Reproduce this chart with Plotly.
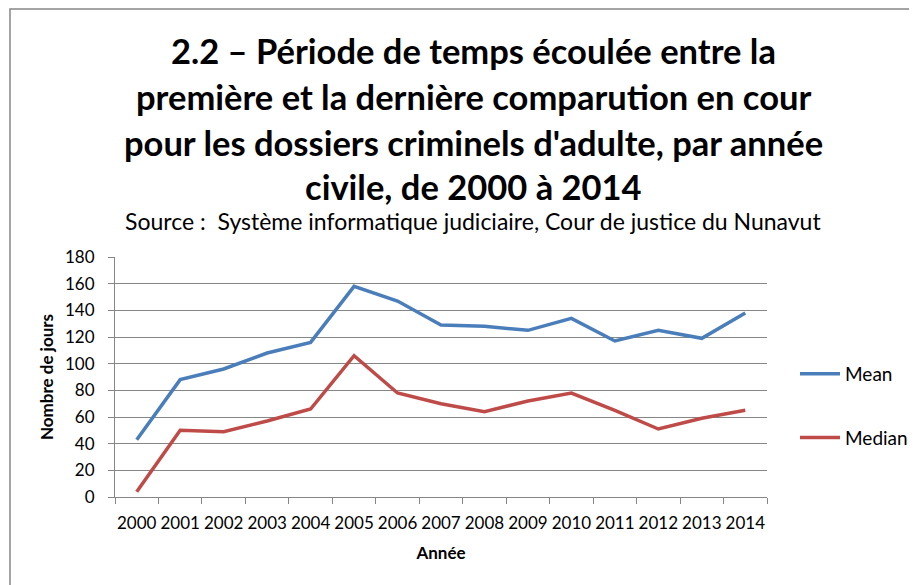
import plotly.graph_objects as go

years = [str(y) for y in range(2000, 2015)]
mean_days = [43, 88, 96, 108, 116, 158, 147, 129, 128, 125, 134, 117, 125, 119, 138]
median_days = [4, 50, 49, 57, 66, 106, 78, 70, 64, 72, 78, 65, 51, 59, 65]

title_lines = [
    "2.2 – Période de temps écoulée entre la",
    "première et la dernière comparution en cour",
    "pour les dossiers criminels d'adulte, par année",
    "civile, de 2000 à 2014",
]
source_text = "Source :  Système informatique judiciaire, Cour de justice du Nunavut"

FONT = "Lato"
OFF = 8  # page body margin
W, H = 917, 585
L, R, T, B = 115 - OFF, 767 - OFF, 257 - OFF, 497 - OFF

def px_x(px):
    return (px - OFF - L) / (R - L)

def px_y(py):
    return (B - (py - OFF)) / (B - T)

fig = go.Figure()
fig.add_trace(go.Scatter(x=years, y=mean_days, mode="lines", name="Mean",
                         line=dict(color="#4A7EBB", width=3.5), legendgroup="a"))
fig.add_trace(go.Scatter(x=years, y=median_days, mode="lines", name="Median",
                         line=dict(color="#BE4B48", width=3.5), legendgroup="b"))

annotations = []
title_y = [50, 96, 142, 186]
for txt, yy in zip(title_lines, title_y):
    annotations.append(dict(text="<b>" + txt + "</b>", x=px_x(473), y=px_y(yy),
                            xref="paper", yref="paper", showarrow=False,
                            xanchor="center", yanchor="middle",
                            font=dict(family=FONT, size=34.5, color="black")))
annotations.append(dict(text=source_text, x=px_x(473), y=px_y(221),
                        xref="paper", yref="paper", showarrow=False,
                        xanchor="center", yanchor="middle",
                        font=dict(family=FONT, size=23, color="black")))

fig.update_layout(
    width=W, height=H,
    margin=dict(l=L, r=W - R, t=T, b=H - B),
    paper_bgcolor="white", plot_bgcolor="white",
    font=dict(family=FONT, size=17, color="black"),
    showlegend=True,
    legend=dict(x=px_x(795), y=px_y(355), xanchor="left", yanchor="top",
                font=dict(family=FONT, size=19, color="black"),
                tracegroupgap=36, itemwidth=40, bgcolor="rgba(0,0,0,0)"),
    annotations=annotations,
    shapes=[dict(type="rect", xref="paper", yref="paper",
                 x0=px_x(10), x1=px_x(1000), y0=px_y(700), y1=px_y(9),
                 line=dict(color="#868686", width=1.5), fillcolor="rgba(0,0,0,0)",
                 layer="below")],
)
fig.update_xaxes(
    type="category", range=[-0.5, 14.5], tickson="boundaries", tickangle=0,
    ticks="outside", ticklen=6, tickcolor="#868686",
    showline=True, linecolor="#868686", linewidth=1, ticklabelstandoff=11,
    showgrid=False, tickfont=dict(family=FONT, size=17),
    title=dict(text="<b>Année</b>", font=dict(family=FONT, size=17), standoff=14),
)
fig.update_yaxes(
    range=[0, 180], dtick=20, ticks="outside", ticklen=6, tickcolor="#868686",
    showline=True, linecolor="#868686", linewidth=1, ticklabelstandoff=10,
    showgrid=True, gridcolor="#868686", gridwidth=1, zeroline=False,
    tickfont=dict(family=FONT, size=17),
    title=dict(text="<b>Nombre de jours</b>", font=dict(family=FONT, size=17), standoff=7),
)

fig.write_html("out.html")
